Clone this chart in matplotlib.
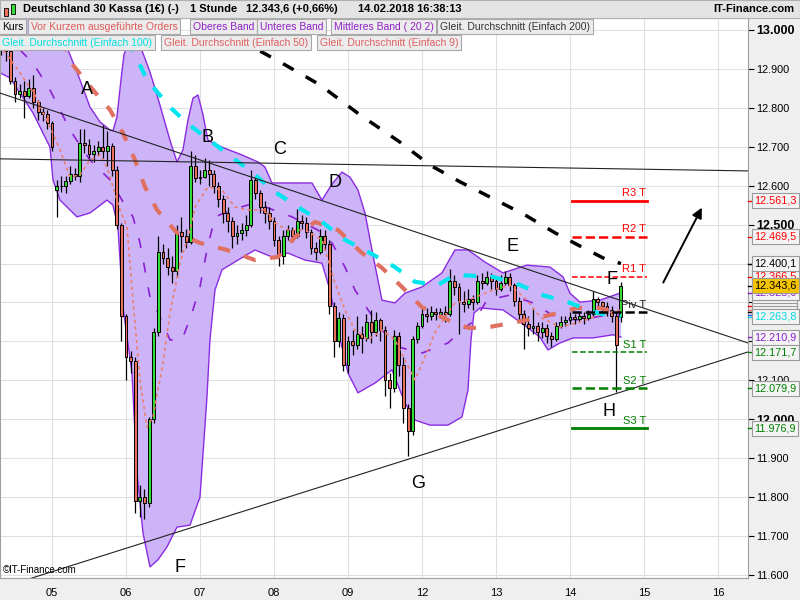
import matplotlib
matplotlib.use("Agg")
import matplotlib.pyplot as plt
from matplotlib.patches import Rectangle
from matplotlib.transforms import blended_transform_factory

plt.rcParams['font.family'] = ['Liberation Sans', 'DejaVu Sans']

# --- DATA: hourly candles (bar index 0..134) ---
opens = [
    12960, 12950, 12945, 12870, 12835, 12842, 12830, 12850, 12815, 12790,
    12785, 12760, 12590, 12600, 12598, 12612, 12630, 12625, 12710, 12705,
    12682, 12690, 12700, 12690, 12702, 12640, 12500, 12265, 12160, 12150,
    11790, 11800, 11785, 12000, 12225, 12430, 12415, 12390, 12380, 12480,
    12470, 12455, 12650, 12620, 12622, 12640, 12630, 12600, 12565, 12530,
    12510, 12470, 12478, 12485, 12500, 12615, 12580, 12545, 12530, 12510,
    12460, 12420, 12470, 12485, 12470, 12510, 12505, 12480, 12440, 12430,
    12470, 12450, 12290, 12200, 12260, 12140, 12200, 12190, 12220, 12210,
    12250, 12225, 12255, 12230, 12100, 12080, 12215, 12140, 12030, 11970,
    12205, 12240, 12270, 12265, 12275, 12270, 12275, 12270, 12355, 12340,
    12300, 12295, 12310, 12300, 12355, 12350, 12365, 12355, 12335, 12350,
    12365, 12345, 12305, 12270, 12245, 12235, 12240, 12225, 12235, 12215,
    12205, 12240, 12250, 12255, 12262, 12258, 12265, 12260, 12270, 12310,
    12300, 12290, 12280, 12265, 12262]
highs = [
    12975, 12965, 12950, 12880, 12860, 12870, 12875, 12885, 12820, 12800,
    12795, 12765, 12615, 12625, 12625, 12650, 12645, 12745, 12745, 12720,
    12705, 12715, 12755, 12740, 12710, 12650, 12505, 12270, 12175, 12160,
    11830, 11820, 12005, 12235, 12470, 12450, 12440, 12420, 12500, 12520,
    12490, 12690, 12680, 12640, 12670, 12665, 12640, 12610, 12575, 12545,
    12520, 12500, 12505, 12525, 12640, 12625, 12590, 12560, 12545, 12520,
    12470, 12485, 12500, 12495, 12540, 12525, 12520, 12490, 12455, 12490,
    12485, 12460, 12300, 12275, 12270, 12215, 12230, 12265, 12240, 12270,
    12280, 12275, 12260, 12240, 12120, 12230, 12225, 12160, 12040, 12215,
    12250, 12290, 12285, 12290, 12285, 12285, 12290, 12385, 12370, 12350,
    12330, 12335, 12320, 12370, 12375, 12380, 12375, 12360, 12370, 12380,
    12375, 12350, 12315, 12280, 12265, 12285, 12250, 12250, 12245, 12225,
    12250, 12265, 12265, 12275, 12270, 12275, 12275, 12280, 12330, 12315,
    12305, 12300, 12290, 12275, 12352]
lows = [
    12935, 12920, 12860, 12815, 12825, 12775, 12825, 12800, 12770, 12765,
    12745, 12690, 12520, 12585, 12580, 12605, 12615, 12610, 12685, 12670,
    12660, 12680, 12670, 12650, 12625, 12490, 12200, 12100, 12120, 11760,
    11750, 11745, 11775, 11990, 12215, 12400, 12370, 12350, 12365, 12430,
    12440, 12450, 12610, 12605, 12620, 12600, 12580, 12545, 12505, 12480,
    12440, 12450, 12460, 12470, 12495, 12565, 12530, 12505, 12490, 12445,
    12395, 12400, 12460, 12455, 12465, 12490, 12465, 12425, 12410, 12425,
    12435, 12270, 12160, 12185, 12125, 12120, 12165, 12180, 12170, 12200,
    12195, 12215, 12200, 12060, 12030, 12070, 12110, 11990, 11905, 11960,
    12195, 12235, 12250, 12255, 12255, 12260, 12250, 12265, 12320, 12220,
    12275, 12285, 12280, 12295, 12335, 12345, 12335, 12320, 12330, 12345,
    12330, 12290, 12250, 12180, 12215, 12220, 12200, 12210, 12195, 12185,
    12200, 12235, 12240, 12245, 12245, 12250, 12245, 12255, 12265, 12285,
    12275, 12265, 12250, 12069, 12250]
closes = [
    12950, 12945, 12870, 12835, 12842, 12830, 12850, 12815, 12790, 12785,
    12760, 12700, 12600, 12598, 12612, 12630, 12625, 12710, 12705, 12682,
    12690, 12700, 12690, 12702, 12640, 12500, 12265, 12160, 12150, 11790,
    11800, 11785, 12000, 12225, 12430, 12415, 12390, 12380, 12480, 12470,
    12455, 12650, 12620, 12622, 12640, 12630, 12600, 12565, 12530, 12510,
    12470, 12478, 12485, 12500, 12615, 12580, 12545, 12530, 12510, 12460,
    12420, 12470, 12485, 12470, 12510, 12505, 12480, 12440, 12430, 12470,
    12450, 12290, 12200, 12260, 12140, 12200, 12190, 12220, 12210, 12250,
    12225, 12255, 12230, 12100, 12080, 12215, 12140, 12030, 11970, 12205,
    12240, 12270, 12265, 12275, 12270, 12275, 12270, 12355, 12340, 12300,
    12295, 12310, 12300, 12355, 12350, 12365, 12355, 12335, 12350, 12365,
    12345, 12305, 12270, 12245, 12235, 12240, 12225, 12235, 12215, 12205,
    12240, 12250, 12255, 12262, 12258, 12265, 12260, 12270, 12310, 12300,
    12290, 12280, 12265, 12190, 12343.6]

day_ticks = [11, 27, 43, 59, 75, 91, 107, 123, 139, 155]
day_labels = ['05', '06', '07', '08', '09', '12', '13', '14', '15', '16']
price_ticks = [11600, 11700, 11800, 11900, 12000, 12100, 12200, 12300,
               12400, 12500, 12600, 12700, 12800, 12900, 13000]

# indicator traces (bar index, price)
upper_band = [(-0.24, 13051), (8.41, 13026), (12.73, 12987), (14.46, 12949), (17.05, 12872),
              (19.22, 12802), (21.38, 12764), (23.54, 12743), (24.19, 12741), (25.05, 12777),
              (25.92, 12872), (26.57, 12936), (27.43, 12969), (28.51, 12979), (30.03, 12961),
              (32.19, 12892), (34.35, 12807), (36.51, 12717), (38.03, 12661), (39.32, 12692),
              (40.41, 12769), (41.49, 12825), (42.57, 12833), (43.65, 12782), (44.73, 12717),
              (47.76, 12699), (52.08, 12679), (55.54, 12661), (57.05, 12648), (58.57, 12607),
              (62.46, 12607), (67.22, 12607), (69.38, 12563), (71.54, 12604), (73.70, 12635),
              (75.43, 12622), (77.16, 12589), (78.68, 12530), (80.19, 12435), (82.35, 12306),
              (85.16, 12299), (87.32, 12324), (91.00, 12340), (95.32, 12376), (98.14, 12435),
              (100.95, 12435), (104.62, 12404), (108.51, 12376), (113.70, 12396), (118.68, 12391),
              (121.49, 12366), (123.0, 12324), (125.16, 12301), (129.49, 12306), (134.03, 12325)]
lower_band = [(-0.24, 12890), (1.92, 12877), (6.89, 12787), (10.57, 12699), (11.22, 12615),
              (12.73, 12563), (16.40, 12520), (19.22, 12530), (22.89, 12563), (24.19, 12550),
              (25.27, 12494), (26.35, 12288), (28.30, 12119), (29.38, 11862), (30.68, 11708),
              (32.19, 11621), (33.92, 11639), (35.86, 11672), (38.03, 11723), (40.84, 11728),
              (43.00, 11800), (44.51, 12057), (45.16, 12204), (46.24, 12332), (47.76, 12384),
              (51.22, 12409), (54.89, 12435), (58.57, 12417), (62.03, 12427), (65.70, 12409),
              (69.38, 12401), (71.11, 12332), (72.86, 12229), (75.00, 12119), (77.16, 12068),
              (80.84, 12093), (84.51, 12127), (87.32, 12042), (89.49, 11998), (92.73, 11985),
              (96.62, 11985), (99.65, 12006), (100.95, 12075), (101.6, 12204), (102.24, 12273),
              (103.54, 12286), (108.51, 12281), (110.68, 12263), (113.70, 12237), (116.51, 12211),
              (118.24, 12178), (120.84, 12196), (123.65, 12209), (127.97, 12209), (132.30, 12217),
              (134.03, 12211)]
mid_band = [(4.08, 12949), (6.89, 12915), (10.57, 12846), (12.73, 12795), (14.89, 12743),
            (19.22, 12666), (23.54, 12615), (26.78, 12550), (28.51, 12520), (30.03, 12453),
            (32.19, 12314), (34.35, 12263), (36.51, 12204), (39.11, 12204), (41.27, 12273),
            (43.00, 12340), (44.51, 12435), (46.24, 12520), (49.92, 12538), (54.89, 12556),
            (57.70, 12543), (62.89, 12520), (68.51, 12486), (71.54, 12453), (74.35, 12391),
            (76.51, 12332), (79.35, 12281), (82.35, 12229), (85.81, 12186), (91.00, 12170),
            (96.62, 12196), (99.65, 12229), (102.46, 12255), (105.05, 12306), (110.03, 12319),
            (115.0, 12299), (120.19, 12260), (125.16, 12255), (131.0, 12268), (134.03, 12268)]
ma9 = [(-0.24, 12961), (4.08, 12890), (7.32, 12833), (10.57, 12751), (12.73, 12692),
       (14.89, 12622), (17.05, 12628), (19.22, 12666), (21.38, 12679), (22.89, 12648),
       (25.70, 12538), (27.22, 12494), (28.51, 12306), (30.03, 12101), (31.54, 11980),
       (32.84, 12006), (35.00, 12145), (36.51, 12273), (38.68, 12401), (40.84, 12486),
       (41.92, 12545), (44.73, 12597), (47.76, 12589), (50.57, 12545), (53.38, 12538),
       (57.05, 12538), (59.22, 12504), (62.03, 12486), (65.70, 12486), (69.38, 12461),
       (72.19, 12350), (74.35, 12281), (76.51, 12229), (79.35, 12204), (82.35, 12229),
       (85.16, 12204), (87.32, 12152), (89.49, 12101), (91.65, 12160), (93.81, 12222),
       (95.97, 12263), (98.14, 12299), (100.95, 12306), (106.35, 12332), (110.03, 12345),
       (113.70, 12306), (116.51, 12263), (120.84, 12237), (125.16, 12250), (129.49, 12268),
       (132.30, 12276), (134.03, 12281)]
ma50 = [(11.0, 13040), (12.30, 13000), (15.54, 12910), (19.86, 12846), (23.54, 12795),
        (26.35, 12735), (28.95, 12666), (31.11, 12597), (33.70, 12538), (38.03, 12479),
        (43.00, 12453), (48.84, 12435), (54.89, 12409), (59.86, 12417), (63.54, 12468),
        (67.86, 12507), (72.86, 12486), (78.03, 12427), (82.35, 12389), (86.68, 12340),
        (91.00, 12288), (96.62, 12255), (100.95, 12235), (104.62, 12235), (107.86, 12242),
        (113.70, 12255), (118.68, 12268), (124.51, 12286), (129.49, 12286), (132.30, 12276),
        (134.03, 12273)]
ma100 = [(25.5, 13040), (27.43, 12974), (31.54, 12872), (36.51, 12802), (40.19, 12761),
         (45.81, 12710), (50.14, 12671), (54.46, 12633), (58.57, 12589), (64.19, 12545),
         (69.38, 12507), (74.35, 12461), (79.35, 12430), (85.16, 12391), (89.49, 12353),
         (94.46, 12345), (98.14, 12371), (106.35, 12366), (112.19, 12345), (117.16, 12319),
         (123.0, 12299), (127.97, 12276), (131.0, 12268), (134.03, 12263.8)]
ma200 = [(47.5, 13030), (51.65, 12974), (60.30, 12918), (68.95, 12859), (77.59, 12782),
         (86.24, 12712), (92.73, 12653), (99.22, 12610), (105.70, 12571), (113.27, 12525),
         (119.76, 12479), (125.16, 12445), (130.57, 12412), (134.03, 12400.1)]

# trendlines (x0, v0, x1, v1)
trendlines = [(-0.24, 12838, 161.5, 12196),
              (-0.24, 12669, 161.5, 12638),
              (4.73, 11585, 161.5, 12173)]

pivot_names = ['R3 T', 'R2 T', 'R1 T', 'Piv T', 'S1 T', 'S2 T', 'S3 T']
pivot_vals = [12561.3, 12469.5, 12366.5, 12274.7, 12171.7, 12079.9, 11976.9]
pivot_span = (123.4, 139.6)

letters = ['A', 'B', 'C', 'D', 'E', 'F', 'G', 'F', 'H']
letter_x = [18.57, 44.73, 60.30, 72.19, 110.68, 132.1, 90.14, 38.68, 131.4]
letter_v = [12846, 12723, 12692, 12607, 12443, 12358, 11834, 11618, 12019]

arrow_from = (142.9, 12345)
arrow_to = (151.8, 12550)

# values shown in boxes on the price axis (drawing order: later on top)
hidden_axis_vals = [12290.0, 12281.0, 12274.7, 12268.0]
axis_vals = [12325.0, 12366.5, 12400.1, 12343.6, 12263.8, 12210.9,
             12171.7, 12079.9, 11976.9, 12469.5, 12561.3]
covered_ticks = [12200, 12300, 12400]

W, H = 800, 600


def de(v, dec=0):
    s = f"{v:,.{dec}f}"
    return s.replace(',', 'X').replace('.', ',').replace('X', '.')


def fx(x):
    return x / W


def fy(y):
    return 1 - y / H


fig = plt.figure(figsize=(8, 6), dpi=100)
fig.patch.set_facecolor('#efefef')
ax = fig.add_axes([0, fy(578), 748 / W, 560 / H])
ax.set_facecolor('white')
ax.set_xlim(-0.24, 161.5)
ax.set_ylim(11592.3, 13030.8)

# grid and axes
ax.set_xticks(day_ticks)
ax.set_xticklabels(day_labels, fontsize=8)
ax.set_yticks(price_ticks)
ax.set_yticklabels([de(v) for v in price_ticks], fontsize=7.8)
ax.yaxis.tick_right()
ax.tick_params(axis='x', length=0, pad=7)
ax.tick_params(axis='y', length=4, width=0.8, pad=2, direction='out')
for lbl, v in zip(ax.get_yticklabels(), price_ticks):
    if v in (12000, 12500, 13000):
        lbl.set_fontweight('bold')
        lbl.set_fontsize(9)
    if v in covered_ticks:
        lbl.set_visible(False)
ax.grid(True, color='#e0e0e0', lw=0.8, zorder=0)
ax.set_axisbelow(True)
for sp in ax.spines.values():
    sp.set_color('#a0a0a0')
    sp.set_linewidth(0.8)

# bollinger bands
ux = [p[0] for p in upper_band]
uv = [p[1] for p in upper_band]
lx = [p[0] for p in lower_band]
lv = [p[1] for p in lower_band]
ax.fill(ux + lx[::-1], uv + lv[::-1], color='#cdb4f8', lw=0, zorder=1)
ax.plot(ux, uv, color='#8a2be2', lw=1.0, zorder=2)
ax.plot(lx, lv, color='#8a2be2', lw=1.0, zorder=2)
ax.plot([p[0] for p in mid_band], [p[1] for p in mid_band], color='#8a1fd0',
        lw=1.2, dashes=(6, 9), zorder=2)

# candles
xs = list(range(len(closes)))
ax.vlines(xs, lows, highs, color='black', lw=0.9, zorder=3)
bottoms = [min(o, c) for o, c in zip(opens, closes)]
heights = [max(abs(c - o), 2) for o, c in zip(opens, closes)]
cols = ['#33dd33' if c >= o else '#e8705c' for o, c in zip(opens, closes)]
ax.bar(xs, heights, bottom=bottoms, width=0.62, color=cols, edgecolor='black',
       linewidth=0.7, zorder=3)

# moving averages
ax.plot([p[0] for p in ma9], [p[1] for p in ma9], color='#e8806e', lw=1.2,
        dashes=(2, 2), zorder=4)
ax.plot([p[0] for p in ma50], [p[1] for p in ma50], color='#e07060', lw=3,
        dashes=(3, 3.5), zorder=4)
ax.plot([p[0] for p in ma100], [p[1] for p in ma100], color='#00e5ee', lw=3,
        dashes=(3, 3.5), zorder=4)
ax.plot([p[0] for p in ma200], [p[1] for p in ma200], color='black', lw=2.5,
        dashes=(3.5, 4), zorder=4)

# trendlines
for x0, v0, x1, v1 in trendlines:
    ax.plot([x0, x1], [v0, v1], color='#222222', lw=0.8, zorder=5)

# pivot levels
piv_styles = [('#ff0000', '-', 2.0), ('#ff0000', '--', 1.8), ('#ff0000', '--', 1.1),
              ('black', '--', 1.8), ('#008000', '--', 1.1), ('#008000', '--', 1.8),
              ('#008000', '-', 2.0)]
for name, v, (c, ls, lw) in zip(pivot_names, pivot_vals, piv_styles):
    ax.plot(pivot_span, [v, v], color=c, ls=ls, lw=lw, zorder=5)
    ax.text(pivot_span[1] - 0.2, v + 6, name, color=c if c != 'black' else '#222222',
            fontsize=8, ha='right', va='bottom', zorder=6)

# letters and arrow
for t, x, v in zip(letters, letter_x, letter_v):
    ax.text(x, v, t, fontsize=13, ha='center', va='center', color='black', zorder=6)
ax.annotate('', xy=arrow_to, xytext=arrow_from,
            arrowprops=dict(arrowstyle='-|>', color='black', lw=1.4, mutation_scale=15),
            zorder=6)

ax.text(0.004, 0.005, '©IT-Finance.com', transform=ax.transAxes, fontsize=7,
        ha='left', va='bottom', zorder=6)

# value boxes on the price axis
trans = blended_transform_factory(ax.transAxes, ax.transData)
box_colors = {12325.0: '#8a1fd0', 12366.5: '#ff0000', 12400.1: 'black',
              12343.6: 'black', 12263.8: '#00d8e0', 12210.9: '#8a1fd0',
              12171.7: '#008000', 12079.9: '#008000', 11976.9: '#008000',
              12469.5: '#ff0000', 12561.3: '#ff0000'}
hidden_colors = ['#ff0000', '#e07060', 'black', '#3050ff']
for v, c in zip(hidden_axis_vals, hidden_colors):
    ax.plot([1.0, 1.006], [v, v], transform=trans, color=c, lw=1, clip_on=False, zorder=7)
    ax.add_patch(Rectangle((752 / 748, v - 16.5), 45 / 748, 33, transform=trans,
                           fc='#f4f4f4', ec='#9a9a9a', lw=0.8, clip_on=False, zorder=7))
for v in axis_vals:
    c = box_colors[v]
    bg = '#f5c400' if v == 12343.6 else '#f4f4f4'
    ax.plot([1.0, 1.006], [v, v], transform=trans, color=c, lw=1, clip_on=False, zorder=7)
    ax.text(754 / 748, v, de(v, 1), transform=trans, color=c, fontsize=7.8,
            ha='left', va='center', clip_on=False, zorder=8,
            bbox=dict(boxstyle='square,pad=0.22', fc=bg, ec='#9a9a9a', lw=0.8))

# title bar
fig.add_artist(Rectangle((0, fy(18)), 1, 18 / H, transform=fig.transFigure,
                         fc='#e4e4e4', ec='#b0b0b0', lw=0.8, zorder=5))
fig.add_artist(Rectangle((fx(4), fy(16)), 4 / W, 8 / H, transform=fig.transFigure,
                         fc='#e8705c', ec='black', lw=0.6, zorder=6))
fig.add_artist(Rectangle((fx(11), fy(14)), 4 / W, 10 / H, transform=fig.transFigure,
                         fc='#33dd33', ec='black', lw=0.6, zorder=6))
for x, s in [(23, 'Deutschland 30 Kassa (1€) (-)'), (190, '1 Stunde'),
             (246, '12.343,6 (+0,66%)'), (358, '14.02.2018 16:38:13')]:
    fig.text(fx(x), fy(9.5), s, fontsize=8, fontweight='bold', ha='left',
             va='center', zorder=7)
fig.text(fx(794), fy(9.5), 'IT-Finance.com', fontsize=8, fontweight='bold',
         ha='right', va='center', zorder=7)

# indicator legend boxes
legend_rows = [
    (26.5, [(2, 'Kurs', 'black'), (31, 'Vor Kurzem ausgeführte Orders', '#e05a5a'),
            (193, 'Oberes Band', '#9020c8'), (260, 'Unteres Band', '#9020c8'),
            (334, 'Mittleres Band ( 20 2)', '#9020c8'),
            (440, 'Gleit. Durchschnitt (Einfach 200)', '#333333')]),
    (42.5, [(2, 'Gleit. Durchschnitt (Einfach 100)', '#00dede'),
            (164, 'Gleit. Durchschnitt (Einfach 50)', '#e06060'),
            (320, 'Gleit. Durchschnitt (Einfach 9)', '#e06060')]),
]
for y, items in legend_rows:
    for x, s, c in items:
        fig.text(fx(x), fy(y), s, color=c, fontsize=7.5, ha='left', va='center',
                 zorder=7, bbox=dict(boxstyle='square,pad=0.25', fc='#ececec',
                                     ec='#a8a8a8', lw=0.8))

fig.savefig('out.png', dpi=100, facecolor=fig.get_facecolor())
